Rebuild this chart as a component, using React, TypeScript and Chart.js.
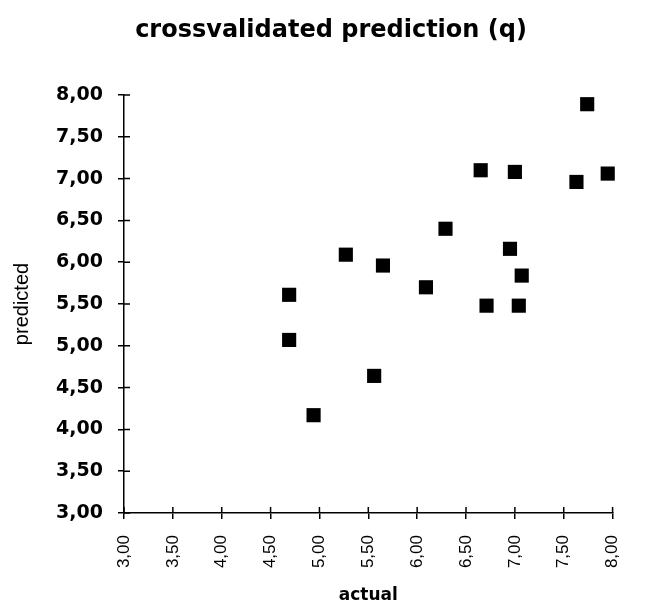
import React, { useEffect, useRef } from "react";
import { Chart, registerables } from "chart.js";

Chart.register(...registerables);

const chartTitle = "crossvalidated prediction (q)";
const actual = [6.65, 7.0, 7.63, 7.95, 6.29, 5.27, 5.65, 6.95, 7.07, 6.09, 4.69, 6.71, 7.04, 4.69, 5.56, 4.94, 7.74];
const predicted = [7.1, 7.08, 6.96, 7.06, 6.4, 6.09, 5.96, 6.16, 5.84, 5.7, 5.61, 5.48, 5.48, 5.07, 4.64, 4.17, 7.89];
const axisMin = 3;
const axisMax = 8;
const axisStep = 0.5;

const fmt = (v: number) => Number(v).toFixed(2).replace(".", ",");

const crossTicks = {
  id: "crossTicks",
  afterDraw(chart: any) {
    const ctx = chart.ctx;
    const { x, y } = chart.scales;
    const area = chart.chartArea;
    ctx.save();
    ctx.strokeStyle = "#000";
    ctx.lineWidth = 1.5;
    ctx.beginPath();
    x.ticks.forEach((_t: any, i: number) => {
      const px = x.getPixelForTick(i);
      ctx.moveTo(px, area.bottom);
      ctx.lineTo(px, area.bottom - 6);
    });
    y.ticks.forEach((_t: any, i: number) => {
      const py = y.getPixelForTick(i);
      ctx.moveTo(area.left, py);
      ctx.lineTo(area.left + 6, py);
    });
    ctx.stroke();
    // chart title
    ctx.fillStyle = "#000";
    ctx.font = "bold 24px 'DejaVu Sans'";
    ctx.textAlign = "center";
    ctx.textBaseline = "middle";
    ctx.fillText(chartTitle, 331, 31);
    ctx.restore();
  },
};

export default function App() {
  const ref = useRef<HTMLCanvasElement>(null);
  useEffect(() => {
    if (!ref.current) return;
    const chart = new Chart(ref.current, {
      type: "scatter",
      data: {
        datasets: [
          {
            data: actual.map((a, i) => ({ x: a, y: predicted[i] })),
            pointStyle: "rect",
            pointRadius: 10,
            pointHoverRadius: 10,
            backgroundColor: "#000",
            borderColor: "#000",
            borderWidth: 0,
            clip: false,
          } as any,
        ],
      },
      options: {
        animation: false,
        responsive: false,
        maintainAspectRatio: false,
        layout: { padding: { left: 0, right: 33, top: 95, bottom: 0 } },
        plugins: {
          legend: { display: false },
          tooltip: { enabled: false },
          title: { display: false },
        },
        scales: {
          x: {
            type: "linear",
            min: axisMin,
            max: axisMax,
            afterFit: (s: any) => {
              s.height = 93;
            },
            ticks: {
              stepSize: axisStep,
              autoSkip: false,
              minRotation: 90,
              maxRotation: 90,
              padding: 16,
              color: "#000",
              font: { family: "Liberation Sans", size: 17 },
              callback: (v: any) => fmt(v),
            },
            grid: { drawOnChartArea: false, drawTicks: true, tickLength: 6, color: "#000", lineWidth: 1.5 },
            border: { display: true, color: "#000", width: 1.5 },
            title: {
              display: true,
              text: "actual",
              color: "#000",
              font: { family: "DejaVu Sans", weight: "bold", size: 17 },
              padding: { top: 4, bottom: 0 },
            },
          },
          y: {
            type: "linear",
            min: axisMin,
            max: axisMax,
            afterFit: (s: any) => {
              s.width = 124;
            },
            ticks: {
              stepSize: axisStep,
              padding: 15,
              color: "#000",
              font: { family: "DejaVu Sans", weight: "bold", size: 19 },
              callback: (v: any) => fmt(v),
            },
            grid: { drawOnChartArea: false, drawTicks: true, tickLength: 6, color: "#000", lineWidth: 1.5 },
            border: { display: true, color: "#000", width: 1.5 },
            title: {
              display: true,
              text: "predicted",
              color: "#000",
              font: { family: "Liberation Sans", size: 20 },
              padding: { top: 10, bottom: 0 },
            },
          },
        },
      },
      plugins: [crossTicks],
    });
    return () => chart.destroy();
  }, []);
  return (
    <div style={{ position: "fixed", left: 0, top: 0, width: 649, height: 606, background: "#fff" }}>
      <canvas ref={ref} width={649} height={606} />
    </div>
  );
}
